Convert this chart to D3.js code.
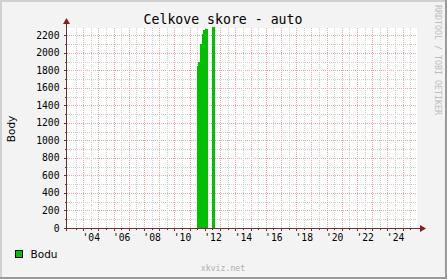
<!DOCTYPE html>
<html>
<head>
<meta charset="utf-8">
<script src="https://cdn.jsdelivr.net/npm/d3@7"></script>
<style>
  html, body { margin: 0; padding: 0; background: #f3f3f3; }
  svg { display: block; }
</style>
</head>
<body>
<div id="chart"></div>
<script>
(function () {
  'use strict';

  // --- data (decimal years) ---
  const stepStart = [2010.96, 2011.00, 2011.07, 2011.17, 2011.30, 2011.40, 2011.53, 2011.98];
  const stepEnd   = [2011.00, 2011.07, 2011.17, 2011.30, 2011.40, 2011.53, 2011.73, 2012.19];
  const stepValue = [130, 1850, 1900, 2095, 2220, 2255, 2270, 2290];

  const yTicks = [0, 200, 400, 600, 800, 1000, 1200, 1400, 1600, 1800, 2000, 2200];
  const xLabelYears = [2004, 2006, 2008, 2010, 2012, 2014, 2016, 2018, 2020, 2022, 2024];

  const W = 447, H = 279;
  const left = 67, right = 417, top = 28, bottom = 228;

  const x = d3.scaleLinear().domain([2002.44, 2025.44]).range([left, right]);
  const y = d3.scaleLinear().domain([0, 2283]).range([bottom, top]);

  const svg = d3.select('#chart').append('svg')
    .attr('width', W).attr('height', H)
    .attr('viewBox', `0 0 ${W} ${H}`)
    .attr('shape-rendering', 'crispEdges');

  // canvas + 3d border
  svg.append('rect').attr('x', 0).attr('y', 0).attr('width', W).attr('height', H).attr('fill', '#f3f3f3');
  svg.append('rect').attr('x', 0).attr('y', 0).attr('width', W).attr('height', 2).attr('fill', '#d0d0d0');
  svg.append('rect').attr('x', 0).attr('y', 0).attr('width', 2).attr('height', H).attr('fill', '#d0d0d0');
  svg.append('rect').attr('x', W - 2).attr('y', 0).attr('width', 2).attr('height', H).attr('fill', '#9a9a9a');
  svg.append('rect').attr('x', 0).attr('y', H - 2).attr('width', W).attr('height', 2).attr('fill', '#9a9a9a');

  // plot background
  svg.append('rect').attr('x', left).attr('y', top)
    .attr('width', right - left).attr('height', bottom - top).attr('fill', '#ffffff');

  const grid = svg.append('g');
  const minorCol = '#cfcfcf', majorCol = '#f2a6a6';

  // horizontal minor (every 100) and major (every 200)
  for (let v = 100; v <= 2283; v += 200) {
    const yy = Math.round(y(v)) + 0.5;
    grid.append('line').attr('x1', left).attr('x2', right).attr('y1', yy).attr('y2', yy)
      .attr('stroke', minorCol).attr('stroke-dasharray', '1,1');
  }
  yTicks.slice(1).forEach(v => {
    const yy = Math.round(y(v)) + 0.5;
    grid.append('line').attr('x1', left).attr('x2', right).attr('y1', yy).attr('y2', yy)
      .attr('stroke', majorCol).attr('stroke-dasharray', '1,1');
  });

  // vertical: grey at each year, red at mid-year
  for (let yr = 2003; yr <= 2025; yr++) {
    const xx = Math.round(x(yr)) + 0.5;
    grid.append('line').attr('x1', xx).attr('x2', xx).attr('y1', top).attr('y2', bottom)
      .attr('stroke', minorCol).attr('stroke-dasharray', '1,1');
  }
  for (let yr = 2003.5; yr <= 2025.4; yr++) {
    const xx = Math.round(x(yr)) + 0.5;
    grid.append('line').attr('x1', xx).attr('x2', xx).attr('y1', top).attr('y2', bottom)
      .attr('stroke', majorCol).attr('stroke-dasharray', '1,1');
  }

  // area steps
  svg.append('g').selectAll('rect')
    .data(stepValue)
    .join('rect')
    .attr('x', (d, i) => x(stepStart[i]))
    .attr('width', (d, i) => x(stepEnd[i]) - x(stepStart[i]))
    .attr('y', d => y(d))
    .attr('height', d => y(0) - y(d))
    .attr('fill', '#00c000');

  // axes
  const axisCol = '#6b3030', arrowCol = '#8e1b1b';
  const ax = svg.append('g');
  ax.append('line').attr('x1', left - 3).attr('x2', right + 3)
    .attr('y1', bottom + 0.5).attr('y2', bottom + 0.5).attr('stroke', axisCol);
  ax.append('line').attr('x1', left - 0.5).attr('x2', left - 0.5)
    .attr('y1', bottom + 3).attr('y2', top - 5).attr('stroke', axisCol);
  ax.append('path').attr('d', `M${right + 3},${bottom - 3} L${right + 9},${bottom + 0.5} L${right + 3},${bottom + 4} Z`)
    .attr('fill', arrowCol).attr('shape-rendering', 'auto');
  ax.append('path').attr('d', `M${left - 4},${top - 4} L${left - 0.5},${top - 10} L${left + 3},${top - 4} Z`)
    .attr('fill', arrowCol).attr('shape-rendering', 'auto');

  // axis ticks
  yTicks.forEach(v => {
    const yy = Math.round(y(v)) + 0.5;
    ax.append('line').attr('x1', left - 3).attr('x2', left).attr('y1', yy).attr('y2', yy).attr('stroke', axisCol);
  });
  for (let v = 100; v <= 2283; v += 200) {
    const yy = Math.round(y(v)) + 0.5;
    ax.append('line').attr('x1', left - 2).attr('x2', left).attr('y1', yy).attr('y2', yy).attr('stroke', axisCol);
  }
  for (let yr = 2003.5; yr <= 2025.4; yr++) {
    const xx = Math.round(x(yr)) + 0.5;
    ax.append('line').attr('x1', xx).attr('x2', xx).attr('y1', bottom).attr('y2', bottom + 3).attr('stroke', axisCol);
  }
  for (let yr = 2003; yr <= 2025; yr++) {
    const xx = Math.round(x(yr)) + 0.5;
    ax.append('line').attr('x1', xx).attr('x2', xx).attr('y1', bottom).attr('y2', bottom + 2).attr('stroke', axisCol);
  }

  const mono = 'DejaVu Sans Mono, monospace';
  const sans = 'DejaVu Sans, sans-serif';

  // y labels
  svg.append('g').selectAll('text')
    .data(yTicks)
    .join('text')
    .attr('x', 59.5)
    .attr('y', d => y(d) + 3.5)
    .attr('text-anchor', 'end')
    .attr('font-family', mono).attr('font-size', 9.7).attr('fill', '#000')
    .text(d => d);

  // x labels
  svg.append('g').selectAll('text')
    .data(xLabelYears)
    .join('text')
    .attr('x', d => x(d) + 0.5)
    .attr('y', 240.5)
    .attr('text-anchor', 'middle')
    .attr('font-family', mono).attr('font-size', 9.7).attr('fill', '#000')
    .text(d => "'" + String(d).slice(2));

  // title
  svg.append('text').attr('x', 223).attr('y', 24)
    .attr('text-anchor', 'middle')
    .attr('font-family', mono).attr('font-size', 13.2).attr('fill', '#000')
    .text('Celkove skore - auto');

  // y axis title
  svg.append('text')
    .attr('transform', 'translate(15,129) rotate(-90)')
    .attr('text-anchor', 'middle')
    .attr('font-family', sans).attr('font-size', 10.5).attr('fill', '#000')
    .text('Body');

  // legend
  svg.append('rect').attr('x', 15.5).attr('y', 250.5).attr('width', 7).attr('height', 7)
    .attr('fill', '#00c000').attr('stroke', '#000');
  svg.append('text').attr('x', 30.5).attr('y', 257.5)
    .attr('font-family', sans).attr('font-size', 10.5).attr('fill', '#000')
    .text('Bodu');

  // watermark
  svg.append('text').attr('x', 223).attr('y', 271)
    .attr('text-anchor', 'middle')
    .attr('font-family', mono).attr('font-size', 8.2).attr('fill', '#b0b0b0')
    .text('xkviz.net');

  // side credit
  svg.append('text')
    .attr('transform', 'translate(435,5) rotate(90)')
    .attr('font-family', mono).attr('font-size', 8.3).attr('fill', '#bdbdbd')
    .text('RRDTOOL / TOBI OETIKER');
})();
</script>
</body>
</html>
